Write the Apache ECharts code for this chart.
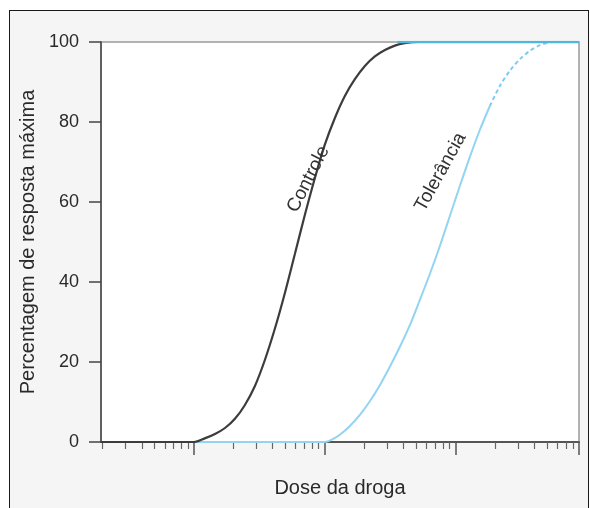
<!DOCTYPE html>
<html>
<head>
<meta charset="utf-8">
<script src="https://cdn.jsdelivr.net/npm/echarts@6/dist/echarts.min.js"></script>
<style>
  html, body { margin: 0; padding: 0; background: #fff; }
  #wrap { position: relative; width: 590px; height: 508px; overflow: hidden; }
  #frame { position: absolute; left: 9px; top: 10px; width: 578px; height: 520px;
           border: 1.5px solid #1a1a1a; background: #f5f5f5; }
  #chart { position: absolute; left: 0; top: 0; width: 590px; height: 508px; }
</style>
</head>
<body>
<div id="wrap"><div id="frame"></div><div id="chart"></div></div>
<script>
// ---- data (dose on a log scale, response in %) ----
const X_MIN = 0.195;
const X_MAX = 880;
const yTicks = [0, 20, 40, 60, 80, 100];
const majorTicks = [1, 10, 100, 880];
const minorTicks = [0.2, 0.3, 0.4, 0.5, 0.6, 0.7, 0.8, 0.9,
                    2, 3, 4, 5, 6, 7, 8, 9,
                    20, 30, 40, 50, 60, 70, 80, 90,
                    200, 300, 400, 500, 600, 700, 800];

const controleDose = [0.195, 1.0, 1.21, 1.45, 1.73, 2.06, 2.45, 2.93, 3.49, 4.16, 4.96, 5.92,
                      7.06, 8.42, 10.0, 11.97, 14.27, 17.02, 20.29, 24.2, 28.9, 34.4, 41.0, 51.6, 880];
const controleResp = [0, 0, 0.9, 2.0, 3.5, 5.8, 9.2, 14, 20.5, 28.3, 37.2, 47,
                      56.8, 66, 74.2, 81, 86.5, 90.7, 94, 96.4, 98, 99.1, 99.7, 100, 100];

const tolSolidDose = [0.195, 10.03, 11.35, 13.07, 15.58, 18.58, 22.16, 26.42, 31.5, 37.6, 44.8,
                      53.4, 63.7, 76.0, 90.6, 108.0, 128.9, 153.6, 183.2];
const tolSolidResp = [0, 0, 0.6, 1.8, 4.0, 6.8, 10.2, 14.2, 18.8, 23.8, 29.2,
                      35.5, 42, 49, 56.5, 64, 71.3, 78, 84];

const tolDashDose = [183.2, 218.5, 260.5, 310.8, 370.6, 441.9, 526.9];
const tolDashResp = [84, 89, 92.8, 95.7, 97.8, 99.2, 100];

const plateauDose = [36, 880];
const plateauResp = [100, 100];

const labelControle = { text: 'Controle', dose: 7.5, resp: 65.7 };
const labelTol = { text: 'Tolerância', dose: 77, resp: 67.5 };

const FONT = '"Liberation Sans", Arial, Helvetica, sans-serif';
const zip = (a, b) => a.map((v, i) => [v, b[i]]);

const chart = echarts.init(document.getElementById('chart'), null, { renderer: 'canvas' });

const lg = Math.log10;
const tickAxisBase = {
  type: 'value', gridIndex: 0, position: 'bottom',
  min: lg(X_MIN), max: lg(X_MAX),
  axisLine: { show: false }, axisLabel: { show: false }, splitLine: { show: false }
};

chart.setOption({
  backgroundColor: 'transparent',
  animation: false,
  grid: {
    left: 101, right: 11, top: 42, bottom: 66,
    show: true, backgroundColor: '#ffffff', borderColor: '#9a9a9a', borderWidth: 1.5
  },
  xAxis: [
    {
      type: 'log', logBase: 10, min: X_MIN, max: X_MAX,
      name: 'Dose da droga', nameLocation: 'middle', nameGap: 36,
      nameTextStyle: { fontFamily: FONT, fontSize: 20, color: '#2a2a2a' },
      axisLine: { show: true, onZero: false, lineStyle: { color: '#555', width: 2 } },
      axisTick: { show: false }, axisLabel: { show: false }, splitLine: { show: false }, minorTick: { show: false }
    },
    Object.assign({}, tickAxisBase, {
      axisTick: { show: true, inside: false, length: 13, customValues: majorTicks.map(lg),
                  lineStyle: { color: '#555', width: 1.5 } }
    }),
    Object.assign({}, tickAxisBase, {
      axisTick: { show: true, inside: false, length: 7, customValues: minorTicks.map(lg),
                  lineStyle: { color: '#666', width: 1.2 } }
    })
  ],
  yAxis: {
    type: 'value', min: 0, max: 100, interval: 20,
    name: 'Percentagem de resposta máxima', nameLocation: 'middle', nameGap: 62,
    nameTextStyle: { fontFamily: FONT, fontSize: 20, color: '#2a2a2a' },
    axisLine: { show: true, onZero: false, lineStyle: { color: '#444', width: 1.5 } },
    axisTick: { show: true, length: 12, lineStyle: { color: '#444', width: 1.5 } },
    axisLabel: { margin: 22, fontFamily: FONT, fontSize: 18, color: '#2a2a2a',
                 customValues: yTicks },
    splitLine: { show: false }
  },
  series: [
    {
      name: 'Tolerância', type: 'line', xAxisIndex: 0, data: zip(tolSolidDose, tolSolidResp),
      smooth: 0.3, symbol: 'none', z: 3,
      lineStyle: { color: '#92d4f1', width: 2 },
      markPoint: {
        symbol: 'circle', symbolSize: 0,
        data: [{ coord: [labelTol.dose, labelTol.resp] }],
        label: { show: true, position: 'inside', rotate: 61, formatter: labelTol.text,
                 fontFamily: FONT, fontSize: 19, color: '#333' }
      }
    },
    {
      name: 'TolerânciaDash', type: 'line', xAxisIndex: 0, data: zip(tolDashDose, tolDashResp),
      smooth: 0.3, symbol: 'none', z: 3,
      lineStyle: { color: '#7dcbef', width: 2, type: [4, 3] }
    },
    {
      name: 'Controle', type: 'line', xAxisIndex: 0, data: zip(controleDose, controleResp),
      smooth: 0.3, symbol: 'none', z: 4,
      lineStyle: { color: '#3c3c3c', width: 2.2 },
      markPoint: {
        symbol: 'circle', symbolSize: 0,
        data: [{ coord: [labelControle.dose, labelControle.resp] }],
        label: { show: true, position: 'inside', rotate: 63, formatter: labelControle.text,
                 fontFamily: FONT, fontSize: 19, color: '#333' }
      }
    },
    {
      name: 'Plateau', type: 'line', xAxisIndex: 0, data: zip(plateauDose, plateauResp),
      symbol: 'none', z: 5,
      lineStyle: { color: '#4fb6e0', width: 2.5 }
    }
  ]
});
</script>
</body>
</html>
